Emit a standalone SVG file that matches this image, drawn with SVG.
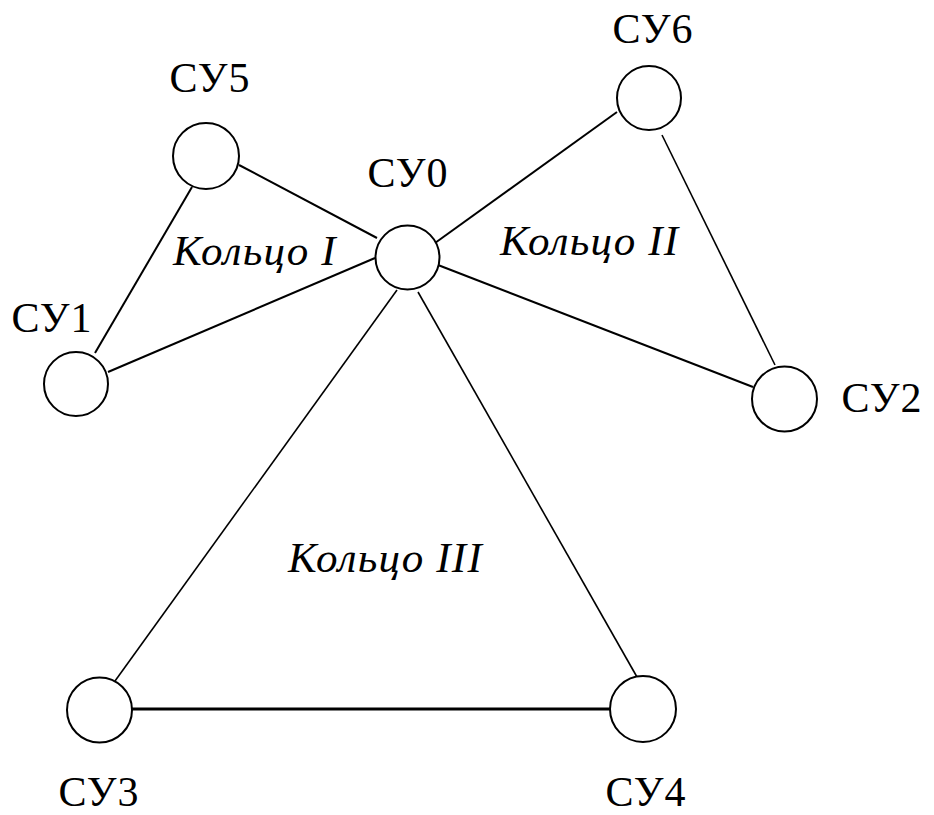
<svg xmlns="http://www.w3.org/2000/svg" width="934" height="815" viewBox="0 0 934 815">
<style>
.node circle{fill:#fff;stroke:#000;stroke-width:2}
.lbl{font-family:"Liberation Serif","Times New Roman",serif;font-size:42px;letter-spacing:1px;fill:#000;text-anchor:middle}
.ring{font-family:"Liberation Serif","Times New Roman",serif;font-style:italic;font-size:43px;letter-spacing:1.2px;fill:#000}
#edges line{stroke:#000;stroke-width:2}
#edges line.thin{stroke-width:1.6}
#edges line.thick{stroke-width:3}
</style>
<rect width="934" height="815" fill="#fff"/>
<g id="edges">
<line x1="239" y1="165" x2="377" y2="238"/>
<line x1="192" y1="187" x2="95" y2="353"/>
<line x1="108" y1="372" x2="375" y2="258"/>
<line x1="435" y1="243" x2="617" y2="112"/>
<line x1="438" y1="265" x2="753" y2="387"/>
<line class="thin" x1="662" y1="135" x2="775" y2="365"/>
<line class="thin" x1="397" y1="290" x2="115" y2="681"/>
<line class="thin" x1="418" y1="292" x2="637" y2="677"/>
<line class="thick" x1="132" y1="709" x2="610" y2="709"/>
</g>
<g id="n0" class="node"><circle cx="407.5" cy="257.5" r="32"/><text class="lbl" x="408" y="187">СУ0</text></g>
<g id="n1" class="node"><circle cx="76" cy="384" r="32"/><text class="lbl" x="52" y="332">СУ1</text></g>
<g id="n2" class="node"><circle cx="784.5" cy="399" r="32.5"/><text class="lbl" x="882" y="412">СУ2</text></g>
<g id="n3" class="node"><circle cx="99.5" cy="710" r="32.5"/><text class="lbl" x="99" y="806">СУ3</text></g>
<g id="n4" class="node"><circle cx="643" cy="709" r="33"/><text class="lbl" x="646" y="806">СУ4</text></g>
<g id="n5" class="node"><circle cx="206" cy="156" r="33"/><text class="lbl" x="210" y="92">СУ5</text></g>
<g id="n6" class="node"><circle cx="649" cy="98" r="32"/><text class="lbl" x="653" y="43">СУ6</text></g>
<text class="ring" x="173" y="265">Кольцо I</text>
<text class="ring" x="500" y="255">Кольцо II</text>
<text class="ring" x="288" y="572">Кольцо III</text>
</svg>
